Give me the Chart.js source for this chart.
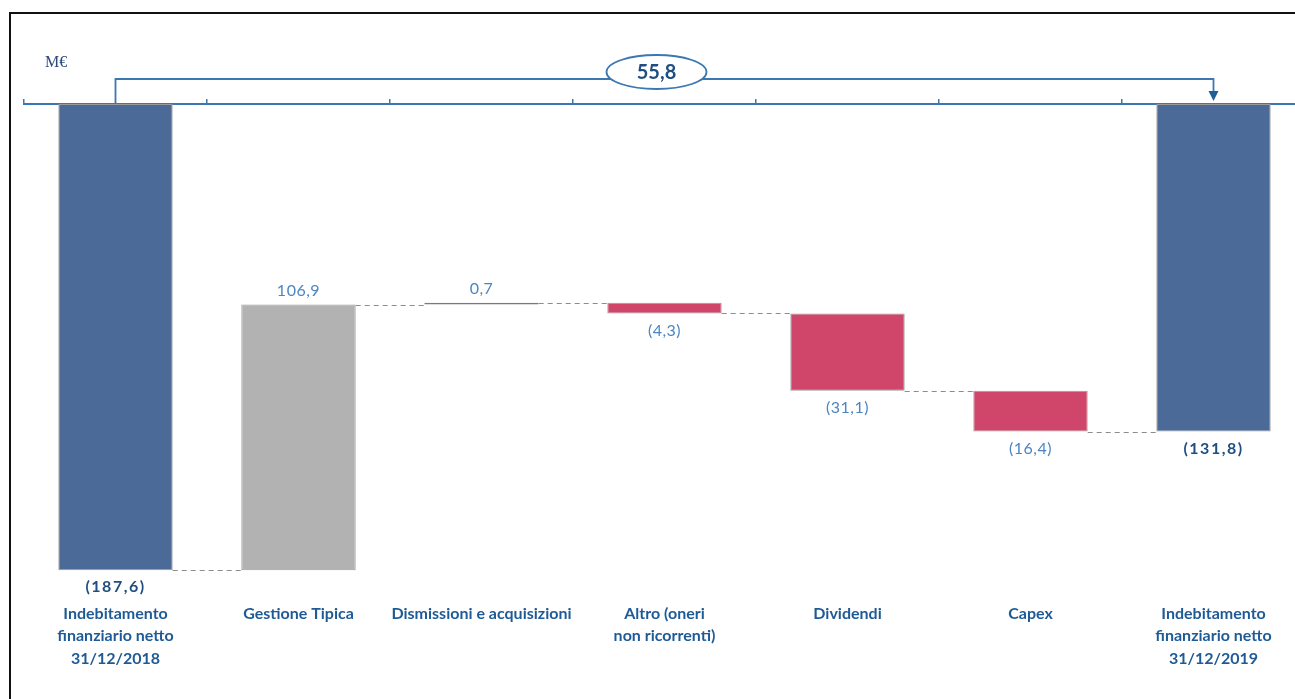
<!DOCTYPE html>
<html><head><meta charset="utf-8">
<script src="https://cdn.jsdelivr.net/npm/chart.js@4.4.1/dist/chart.umd.min.js"></script>
<style>
html,body{margin:0;padding:0;background:#fff;overflow:hidden;width:1295px;height:699px;}
#wrap{position:absolute;left:0;top:0;width:1310px;height:699px;}
#frame{position:absolute;left:9px;top:12px;width:1400px;height:800px;border:2px solid #111;box-sizing:border-box;pointer-events:none;z-index:2;}
</style></head><body>
<div id="wrap"><canvas id="c"></canvas></div>
<div id="frame"></div>
<script>
// ---- data ----
const categories = [
  ["Indebitamento","finanziario netto","31/12/2018"],
  "Gestione Tipica",
  "Dismissioni e acquisizioni",
  ["Altro (oneri","non ricorrenti)"],
  "Dividendi",
  "Capex",
  ["Indebitamento","finanziario netto","31/12/2019"]
];
const startValue = -187.6;
const deltas = [106.9, 0.7, -4.3, -31.1, -16.4];
const endValue = -131.8;
const valueLabels = ["(187,6)","106,9","0,7","(4,3)","(31,1)","(16,4)","(131,8)"];
const changeLabel = "55,8";
const unitLabel = "M€";

// ---- build floating bars ----
const floating = [[0, startValue]];
const levels = [startValue];
let run = startValue;
deltas.forEach(d => { const nxt = +(run + d).toFixed(1); floating.push([run, nxt]); run = nxt; levels.push(run); });
floating.push([endValue, 0]);

const BLUE = '#4b6a97', GRAY = '#b2b2b2', DGRAY = '#7a7a7a', RED = '#d0466b';
const barColors = [BLUE, GRAY, DGRAY, RED, RED, RED, BLUE];
const LINE = '#3b78b2';

const overlay = {
  id: 'overlay',
  afterDatasetsDraw(chart) {
    const ctx = chart.ctx;
    const meta = chart.getDatasetMeta(0);
    const y = chart.scales.y;
    // dashed connectors
    ctx.save();
    ctx.strokeStyle = '#8c8c8c';
    ctx.lineWidth = 1.2;
    ctx.setLineDash([5, 4]);
    for (let i = 0; i < meta.data.length - 1; i++) {
      const a = meta.data[i], b = meta.data[i + 1];
      const lvl = i === meta.data.length - 2 ? endValue : levels[i];
      const py = Math.round(y.getPixelForValue(lvl)) + 0.5;
      ctx.beginPath();
      ctx.moveTo(a.x + a.width / 2, py);
      ctx.lineTo(b.x - b.width / 2, py);
      ctx.stroke();
    }
    ctx.restore();
    // value labels
    ctx.save();
    ctx.textAlign = 'center';
    ctx.textBaseline = 'middle';
    meta.data.forEach((el, i) => {
      const [lo, hi] = [Math.min(...floating[i]), Math.max(...floating[i])];
      const isTotal = i === 0 || i === meta.data.length - 1;
      const positive = !isTotal && deltas[i - 1] > 0;
      if (isTotal) {
        ctx.font = 'bold 16px Lato';
        ctx.fillStyle = '#1f4e82';
        if (ctx.letterSpacing !== undefined) ctx.letterSpacing = '1.5px';
      } else {
        ctx.font = '16px Lato';
        ctx.fillStyle = '#4a86c2';
        if (ctx.letterSpacing !== undefined) ctx.letterSpacing = '0.5px';
      }
      const py = positive ? y.getPixelForValue(hi) - 14 : y.getPixelForValue(lo) + 17;
      ctx.fillText(valueLabels[i], el.x, py);
    });
    ctx.restore();
    // bracket annotation
    const x0 = meta.data[0].x, x6 = meta.data[meta.data.length - 1].x;
    const y0 = y.getPixelForValue(0);
    const yb = y0 - 25;
    ctx.save();
    ctx.strokeStyle = LINE;
    ctx.lineWidth = 1.8;
    ctx.beginPath();
    ctx.moveTo(x0, y0);
    ctx.lineTo(x0, yb);
    ctx.lineTo(x6, yb);
    ctx.lineTo(x6, y0 - 12);
    ctx.stroke();
    ctx.fillStyle = '#1f5f99';
    ctx.beginPath();
    ctx.moveTo(x6 - 5, y0 - 13);
    ctx.lineTo(x6 + 5, y0 - 13);
    ctx.lineTo(x6, y0 - 3);
    ctx.closePath();
    ctx.fill();
    const cx = (x0 + x6) / 2 - 8, cy = yb - 7;
    ctx.beginPath();
    ctx.ellipse(cx, cy, 50, 17, 0, 0, Math.PI * 2);
    ctx.fillStyle = '#fff';
    ctx.fill();
    ctx.stroke();
    ctx.fillStyle = '#1f4e82';
    ctx.font = 'bold 20px Lato';
    ctx.textAlign = 'center';
    ctx.textBaseline = 'middle';
    ctx.fillText(changeLabel, cx, cy + 1);
    // unit label
    ctx.font = '16px "Liberation Serif"';
    ctx.fillStyle = '#2b4a7a';
    ctx.textAlign = 'left';
    ctx.fillText(unitLabel, 45, 63);
    ctx.restore();
  }
};

new Chart(document.getElementById('c'), {
  type: 'bar',
  data: {
    labels: categories,
    datasets: [{
      data: floating,
      backgroundColor: barColors,
      borderColor: barColors.map(c => c === DGRAY ? DGRAY : '#9a9a9a'),
      borderWidth: 1,
      borderSkipped: false,
      barPercentage: 0.625,
      categoryPercentage: 1.0
    }]
  },
  options: {
    responsive: true,
    maintainAspectRatio: false,
    animation: false,
    layout: { padding: { left: 24, right: 5, top: 98, bottom: 4 } },
    plugins: { legend: { display: false }, tooltip: { enabled: false } },
    scales: {
      x: {
        position: 'bottom',
        offset: true,
        grid: { display: false, drawTicks: false },
        border: { display: false },
        ticks: {
          padding: 1,
          autoSkip: false,
          maxRotation: 0,
          color: '#1e5b96',
          font: { family: 'Lato', size: 16, weight: 'bold', lineHeight: 1.42 }
        },
        afterFit: s => { s.height = 94; }
      },
      xTop: {
        position: 'top',
        offset: true,
        z: 1,
        grid: { display: true, offset: true, drawOnChartArea: false, drawTicks: true, tickLength: 5, color: LINE, lineWidth: 1.5 },
        border: { display: true, color: LINE, width: 2 },
        ticks: { display: false },
        afterFit: s => { s.height = 6; }
      },
      y: {
        display: false,
        min: -200,
        max: 0
      }
    }
  },
  plugins: [overlay]
});
</script>
</body></html>
